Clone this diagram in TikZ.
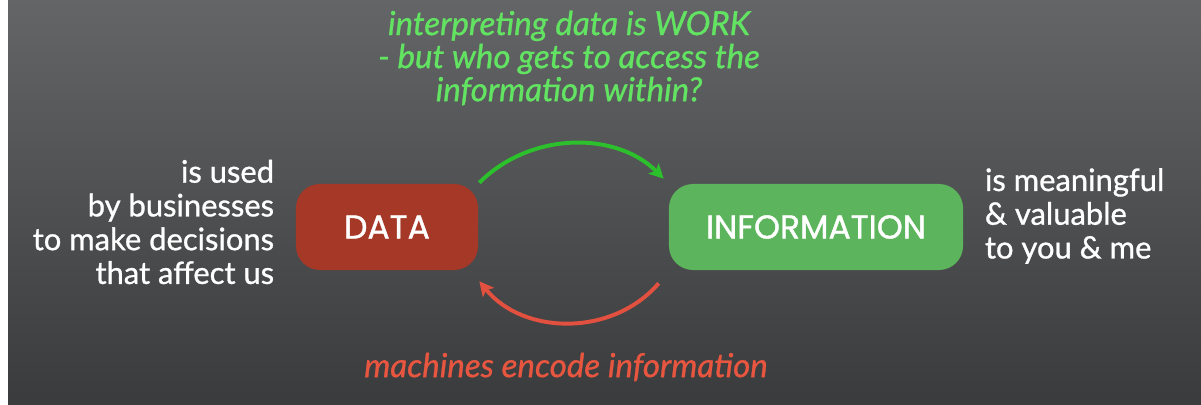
\documentclass[tikz,border=0pt]{standalone}
\usepackage{fontspec}
\setmainfont{Lato}
\newfontfamily\notefont{Lato}[FakeBold=0.9]
\newfontfamily\remarkfont{Lato}[FakeBold=0.9]
\newfontfamily\boxfont{Poppins}[FakeBold=1.2]
\usetikzlibrary{arrows.meta}

\definecolor{bgtop}{RGB}{100,101,103}
\definecolor{bgbottom}{RGB}{58,59,60}
\definecolor{datared}{RGB}{166,56,40}
\definecolor{infogreen}{RGB}{92,180,92}
\definecolor{flowgreen}{RGB}{44,192,44}
\definecolor{flowred}{RGB}{226,80,64}
\definecolor{textgreen}{RGB}{98,228,98}
\definecolor{textred}{RGB}{232,86,64}

\begin{document}
\begin{tikzpicture}[
    x=0.025cm, y=-0.025cm,
    block/.style={rectangle, rounded corners=0.6cm, minimum height=2.15cm,
        text=white, font=\boxfont\fontsize{23.5}{26}\selectfont},
    note/.style={text=white, font=\notefont\fontsize{22}{24}\selectfont},
    remark/.style={font=\remarkfont\itshape\fontsize{23.5}{23.5}\selectfont, align=center},
    flow/.style={-{Stealth[length=3.6mm, width=3.6mm, inset=0.8mm]}, line width=2.8pt}
]

% background
\useasboundingbox (0,0) rectangle (1201,405);
\fill[white] (0,0) rectangle (8,405);
\shade[top color=bgtop, bottom color=bgbottom] (8,0) rectangle (1201,405);

% the two boxes
\node[block, fill=datared, minimum width=4.55cm] (data) at (387,227) {DATA};
\node[block, fill=infogreen, minimum width=7.35cm] (info) at (816,227) {INFORMATION};

% side notes
\node[note, anchor=east, align=right] (used) at (279,222)
    {is used\\by businesses\\to make decisions\\that affect us};
\node[note, anchor=west, align=left] (worth) at (980,216)
    {is meaningful\\\& valuable\\to you \& me};

% top and bottom remarks
\node[remark, text=textgreen] (work) at (569,58)
    {interpreting data is WORK\\- but who gets to access the\\information within?};
\node[remark, text=textred] (encode) at (566,367) {machines encode information};

% arrows
\coordinate (redstart) at ([shift={(-10,13)}]info.south west);
\coordinate (redend) at ([shift={(1,11)}]data.south east);
\draw[flow, flowgreen, shorten <=1pt, shorten >=5pt] (data.north east) to[bend left=45] (info.north west);
\draw[flow, flowred] (redstart) to[bend left=50] (redend);

\end{tikzpicture}
\end{document}
